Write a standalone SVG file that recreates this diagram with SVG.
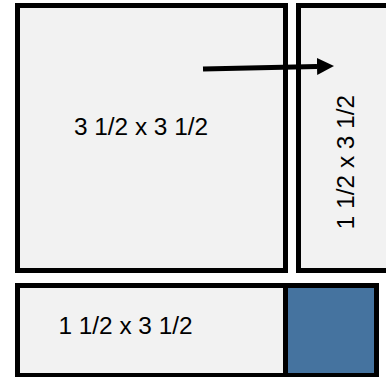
<svg xmlns="http://www.w3.org/2000/svg" width="386" height="377" viewBox="0 0 386 377">
<style>
.box{fill:#F2F2F2;stroke:#000;stroke-width:5}
.lbl{font-family:"Liberation Sans",Arial,sans-serif;font-size:24.4px;fill:#000;text-anchor:middle}
</style>
<defs>
<marker id="ah" markerUnits="userSpaceOnUse" markerWidth="17" markerHeight="17" refX="0" refY="8" orient="auto" viewBox="0 0 16 16">
<path d="M0,0 L16,8 L0,16 Z" fill="#000"/>
</marker>
</defs>
<rect width="386" height="377" fill="#fff"/>
<g id="big">
<rect class="box" x="17.5" y="5.5" width="268" height="265"/>
<text class="lbl" x="141" y="135">3 1/2 x 3 1/2</text>
</g>
<g id="side">
<rect class="box" x="298.5" y="5.5" width="110" height="265"/>
<text class="lbl" transform="translate(354,162) rotate(-90)">1 1/2 x 3 1/2</text>
</g>
<g id="bottom">
<rect class="box" x="17.5" y="285.5" width="359" height="90"/>
<text class="lbl" x="125.5" y="333.5">1 1/2 x 3 1/2</text>
</g>
<g id="square">
<rect x="285.5" y="285.5" width="91" height="90" fill="#45739F" stroke="#000" stroke-width="5"/>
</g>
<g id="connectors">
<line x1="203" y1="69" x2="317" y2="66.4" stroke="#000" stroke-width="5" marker-end="url(#ah)"/>
</g>
</svg>
